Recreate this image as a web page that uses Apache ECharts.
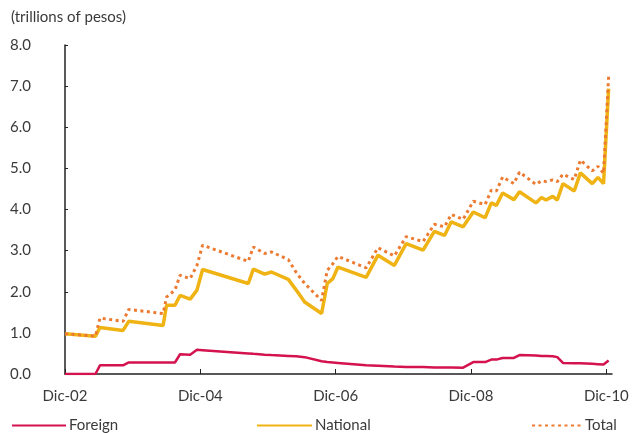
<!DOCTYPE html>
<html>
<head>
<meta charset="utf-8">
<script src="https://cdn.jsdelivr.net/npm/echarts@6/dist/echarts.min.js"></script>
<style>
  html, body { margin: 0; padding: 0; background: #fff; }
  #chart { width: 635px; height: 433px; }
</style>
</head>
<body>
<div id="chart"></div>
<script>
// months elapsed since Dec-02
const months = [0, 5.4, 6.2, 10.3, 11.3, 17.4, 18, 19.5, 20.4, 22.2, 23.4, 24.4, 32.5, 33.4, 35.4, 36.6, 39.6, 41, 42.5, 45.5, 46.5, 47.5, 48.4, 53.4, 55.5, 58.4, 60.5, 63.5, 65.5, 67.3, 68.5, 70.6, 72.4, 74.5, 75.6, 76.5, 77.6, 79.6, 80.6, 83.5, 84.5, 85.3, 86.5, 87.3, 88.3, 90.3, 91.4, 93.5, 94.5, 95.5, 96.4]
const foreign = [0, 0, 0.21, 0.21, 0.28, 0.28, 0.28, 0.28, 0.48, 0.47, 0.59, 0.58, 0.5, 0.49, 0.47, 0.46, 0.44, 0.43, 0.41, 0.31, 0.29, 0.28, 0.27, 0.21, 0.2, 0.18, 0.17, 0.17, 0.16, 0.16, 0.16, 0.155, 0.29, 0.29, 0.35, 0.35, 0.39, 0.39, 0.46, 0.45, 0.44, 0.44, 0.43, 0.41, 0.27, 0.26, 0.26, 0.25, 0.24, 0.23, 0.33]
const national = [0.98, 0.92, 1.13, 1.06, 1.28, 1.18, 1.67, 1.67, 1.91, 1.82, 2.04, 2.54, 2.2, 2.55, 2.43, 2.48, 2.3, 2.04, 1.75, 1.47, 2.2, 2.32, 2.6, 2.35, 2.89, 2.64, 3.17, 3.01, 3.47, 3.37, 3.7, 3.58, 3.94, 3.8, 4.16, 4.1, 4.4, 4.24, 4.43, 4.16, 4.29, 4.23, 4.32, 4.23, 4.63, 4.45, 4.89, 4.63, 4.78, 4.63, 6.94]
const total = [0.98, 0.92, 1.36, 1.28, 1.57, 1.47, 1.87, 2.04, 2.4, 2.32, 2.64, 3.13, 2.74, 3.09, 2.93, 2.97, 2.78, 2.47, 2.2, 1.79, 2.52, 2.68, 2.86, 2.58, 3.07, 2.87, 3.34, 3.22, 3.64, 3.58, 3.88, 3.76, 4.2, 4.12, 4.47, 4.45, 4.79, 4.63, 4.91, 4.61, 4.7, 4.68, 4.72, 4.68, 4.86, 4.73, 5.2, 4.94, 5.05, 4.88, 7.24]
const tickLabels = { 0: 'Dic-02', 24: 'Dic-04', 48: 'Dic-06', 72: 'Dic-08', 96: 'Dic-10' }

const pair = vals => months.map((m, i) => [m, vals[i]])
const font = 'Lato, "Open Sans", sans-serif'
const txt = '#3a3a3a'
const legendBase = { itemHeight: 10, itemGap: 0, itemStyle: { opacity: 0 }, textStyle: { fontSize: 15, color: txt, padding: [0, 0, 0, -2] } }

const chart = echarts.init(document.getElementById('chart'))
chart.setOption({
  animation: false,
  textStyle: { fontFamily: font },
  grid: { left: 65, right: 23, top: 45, bottom: 59 },
  title: { text: '(trillions of pesos)', left: 6, top: 5, textStyle: { fontFamily: font, fontSize: 15, fontWeight: 'normal', color: txt } },
  legend: [
    { ...legendBase, data: ['Foreign'], left: 6, top: 413, itemWidth: 54 },
    { ...legendBase, data: ['National'], left: 251, top: 413, itemWidth: 55 },
    { ...legendBase, data: ['Total'], left: 526, top: 413, itemWidth: 50 },
  ],
  xAxis: {
    type: 'value', min: 0, max: 97, interval: 24,
    splitLine: { show: false },
    axisLine: { lineStyle: { color: '#222', width: 1.5 } },
    axisTick: { inside: true, length: 5, lineStyle: { color: '#222' } },
    axisLabel: { showMaxLabel: false, margin: 15, fontSize: 15, color: txt, formatter: v => tickLabels[v] || '' },
  },
  yAxis: {
    type: 'value', min: 0, max: 8, interval: 1,
    splitLine: { show: false },
    axisLine: { show: true, lineStyle: { color: '#222', width: 1.5 } },
    axisTick: { show: true, inside: true, length: 3, lineStyle: { color: '#222' } },
    axisLabel: { margin: 34, fontSize: 15, color: txt, formatter: v => v.toFixed(1) },
  },
  series: [
    { name: 'Foreign', type: 'line', symbol: 'none', data: pair(foreign), color: '#d4124e', lineStyle: { width: 2.5 } },
    { name: 'National', type: 'line', symbol: 'none', data: pair(national), color: '#efb313', lineStyle: { width: 3.5 } },
    { name: 'Total', type: 'line', symbol: 'none', data: pair(total), color: '#ec7a30', lineStyle: { width: 3, type: [3, 3.5], cap: 'butt' }, z: 3 },
  ],
})
</script>
</body>
</html>
